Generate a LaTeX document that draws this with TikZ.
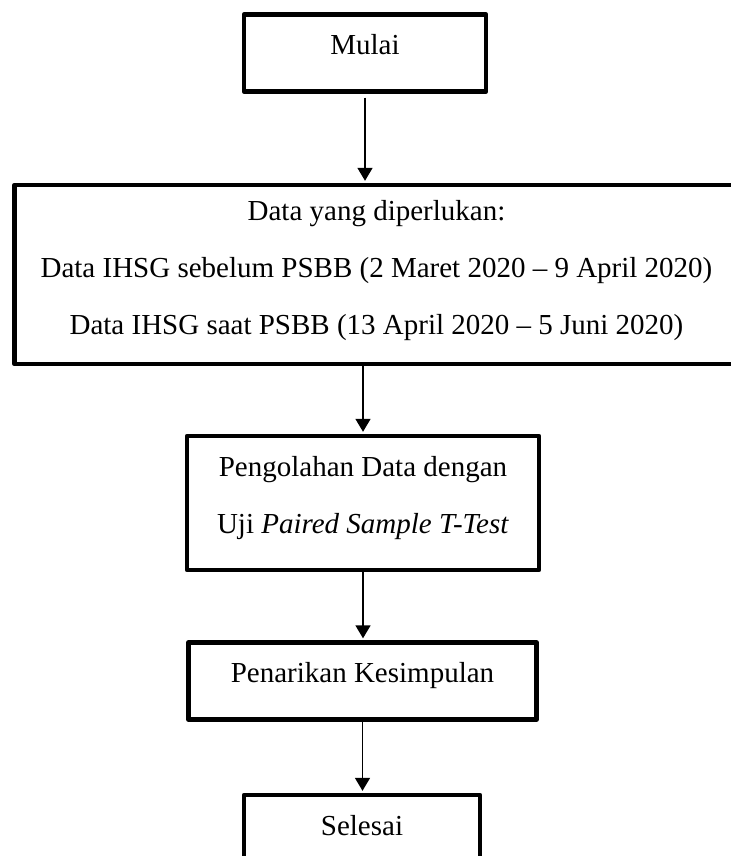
\documentclass[tikz,border=0pt]{standalone}
\usepackage{fontspec}
\setmainfont{Liberation Serif}
\usetikzlibrary{arrows.meta}

\begin{document}
\begin{tikzpicture}[x=0.5pt, y=-0.5pt,
    every node/.style={font=\fontsize{14.5pt}{28.5pt}\selectfont},
    procbox/.style={draw, line width=2.2pt, line join=round,
      inner xsep=0pt, inner ysep=0pt, align=center},
    termbox/.style={procbox, text height=20pt, text depth=18.5pt},
    flow/.style={line width=0.8pt, -{Triangle[width=7.5pt, length=6.5pt]},
      shorten >=1pt}]
  \path[use as bounding box, clip] (0,0) rectangle (731,856);
  % Boxes, top to bottom
  \node[termbox, minimum width=121pt] (mulai) at (365,53) {Mulai};
  \node[procbox, minimum width=362pt, text height=74.5pt, text depth=15pt]
    (data) at (376.5,274.5)
    {Data yang diperlukan:\\
     Data IHSG sebelum PSBB (2 Maret 2020 -- 9 April 2020)\\
     Data IHSG saat PSBB (13 April 2020 -- 5 Juni 2020)};
  \node[procbox, minimum width=176pt, text height=48.5pt, text depth=18.5pt]
    (olah) at (363,503)
    {Pengolahan Data dengan\\ Uji \textit{Paired Sample T-Test}};
  \node[termbox, minimum width=174pt] (tarik) at (362.5,681) {Penarikan Kesimpulan};
  \node[termbox, minimum width=118pt] (selesai) at (362,833.5) {Selesai};
  % Connectors
  \draw[flow, shorten <=2pt] (mulai.south) -- (mulai.south |- data.north);
  \draw[flow] (olah.north |- data.south) -- (olah.north);
  \draw[flow] (olah.south) -- (olah.south |- tarik.north);
  \draw[flow] (tarik.south) -- (tarik.south |- selesai.north);
\end{tikzpicture}
\end{document}
